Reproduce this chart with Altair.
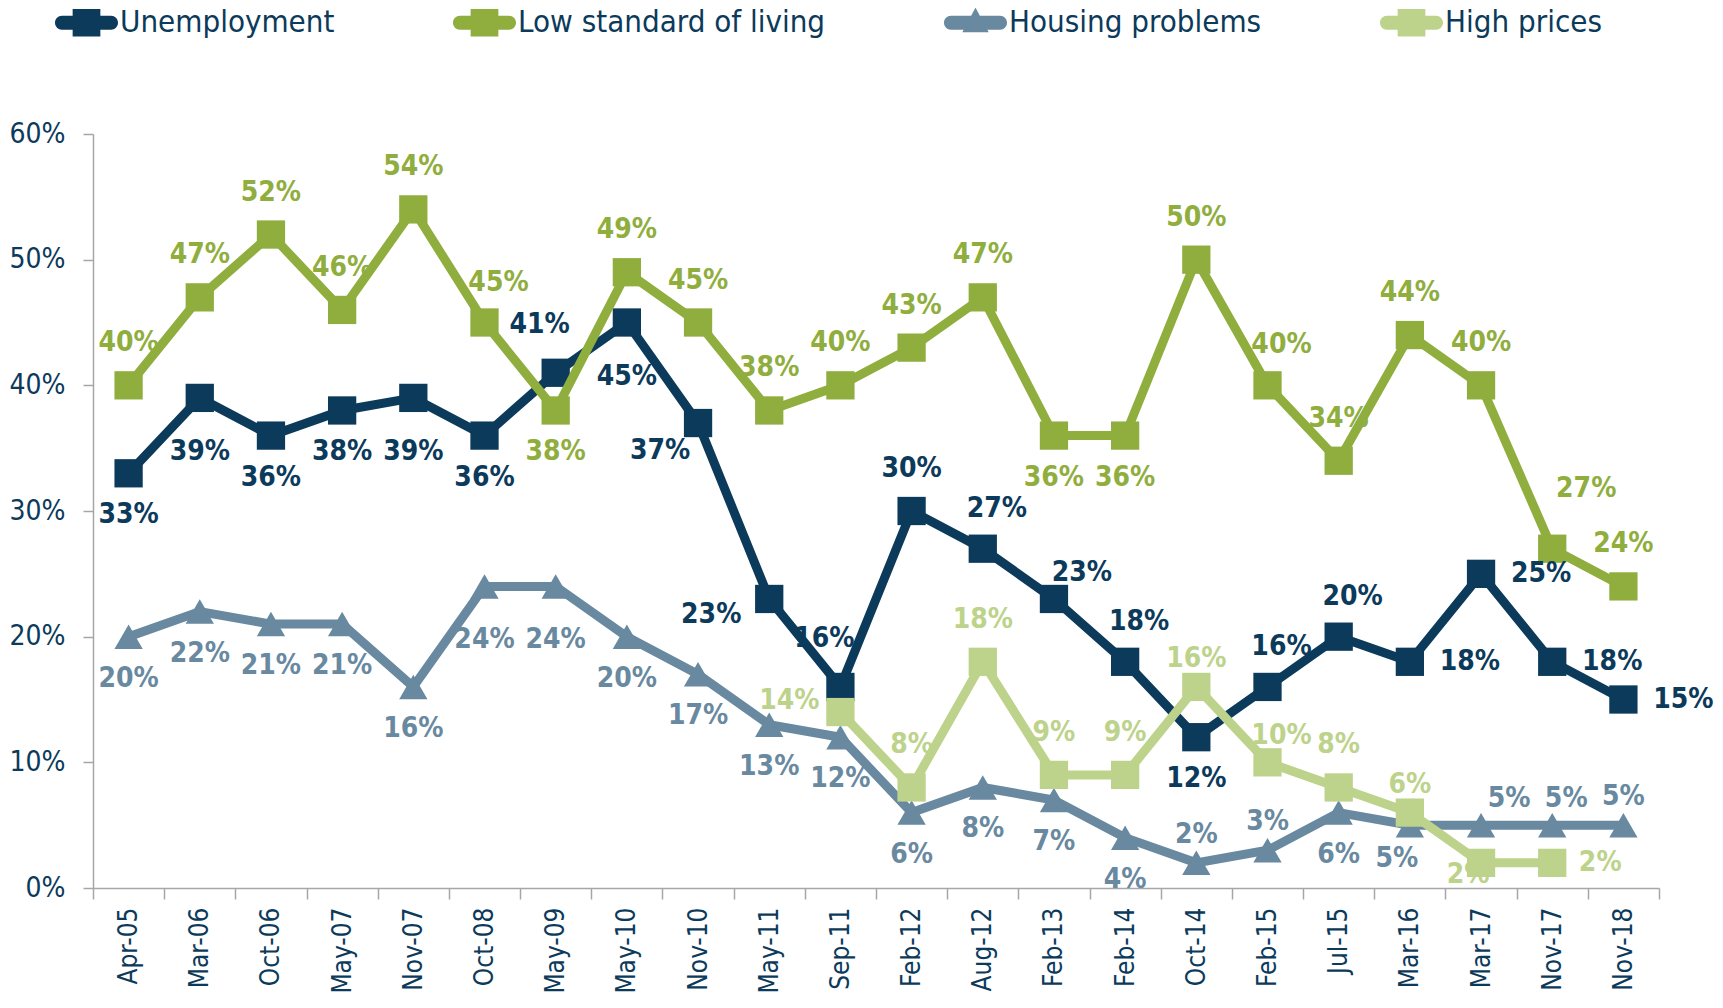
import altair as alt
import pandas as pd

categories = ["Apr-05", "Mar-06", "Oct-06", "May-07", "Nov-07", "Oct-08", "May-09",
              "May-10", "Nov-10", "May-11", "Sep-11", "Feb-12", "Aug-12", "Feb-13",
              "Feb-14", "Oct-14", "Feb-15", "Jul-15", "Mar-16", "Mar-17", "Nov-17", "Nov-18"]

series_names = ["Unemployment", "Low standard of living", "Housing problems", "High prices"]

unemployment = [33, 39, 36, 38, 39, 36, 41, 45, 37, 23, 16, 30, 27, 23, 18, 12, 16, 20, 18, 25, 18, 15]
low_standard = [40, 47, 52, 46, 54, 45, 38, 49, 45, 38, 40, 43, 47, 36, 36, 50, 40, 34, 44, 40, 27, 24]
housing = [20, 22, 21, 21, 16, 24, 24, 20, 17, 13, 12, 6, 8, 7, 4, 2, 3, 6, 5, 5, 5, 5]
high_prices = [None] * 10 + [14, 8, 18, 9, 9, 16, 10, 8, 6, 2, 2, None]

# label placement codes (style), one per point
unemp_place = ["b", "bb", "b", "b", "bb", "b", "al", "bb", "bl", "l", "al", "a",
               "ar", "ar2", "ar", "b", "ar", "ar", "r", "r", "r", "r"]
low_place = ["a", "a", "a", "a", "a", "ar", "b", "a", "a", "a", "a", "a",
             "a", "b", "b", "a", "ar", "a", "a", "a", "ar3", "a"]
housing_place = ["b", "b", "b", "b", "b", "bb", "bb", "b", "b", "b", "b", "b",
                 "b", "b", "b", "as", "as", "b", "bl2", "ar2", "ars", "as"]
hp_place = [None] * 10 + ["la", "a", "a", "a", "a", "as", "ars", "a", "as", "bls", "rs", None]

offsets = {
    "a": (0, -42), "as": (0, -28), "b": (0, 42), "bb": (0, 54),
    "r": (60, 0), "rs": (48, 0), "l": (-58, 16), "la": (-51, -11),
    "al": (-16, -48), "ar": (14, -40), "ars": (14, -26), "ar2": (28, -26),
    "ar3": (34, -60), "bl": (-38, 28), "bls": (-13, 12), "bl2": (-13, 34),
}

colors = ["#0C3A5B", "#8FAE3E", "#6889A0", "#BDD38B"]
markers = ["square", "square", "triangle-up", "square"]
NAVY = "#0C3A5B"
GRAY = "#A6A6A6"
FONT = "DejaVu Sans Condensed, DejaVu Sans"

sq = "M-0.44,-0.44 L0.44,-0.44 L0.44,0.44 L-0.44,0.44 Z"
bar = "M-0.78,-0.22 L0.78,-0.22 A0.22,0.22 0 0 1 0.78,0.22 L-0.78,0.22 A0.22,0.22 0 0 1 -0.78,-0.22 Z"
tri = "M0,-0.48 L0.42,0.3 L-0.42,0.3 Z"
legend_paths = [bar + " " + sq, bar + " " + sq, bar + " " + tri, bar + " " + sq]

rows = []
for name, vals, places in zip(series_names,
                              [unemployment, low_standard, housing, high_prices],
                              [unemp_place, low_place, housing_place, hp_place]):
    for cat, v, p in zip(categories, vals, places):
        if v is None:
            continue
        rows.append({"cat": cat, "series": name, "value": v, "place": p, "label": f"{v}%"})
df = pd.DataFrame(rows)

legend_def = alt.Legend(title=None, orient="none", legendX=-38, legendY=-143,
                        direction="horizontal", columns=4, symbolSize=3969,
                        symbolStrokeWidth=0, symbolOpacity=1, labelFontSize=31,
                        labelFont=FONT, labelColor=NAVY, labelOffset=2,
                        columnPadding=118, labelLimit=500, padding=0)

color_enc = alt.Color("series:N", scale=alt.Scale(domain=series_names, range=colors),
                      legend=legend_def)

x_enc = alt.X("cat:N", sort=categories, bandPosition=0.5,
              scale=alt.Scale(type="band", paddingInner=0, paddingOuter=0),
              axis=alt.Axis(title=None, labelAngle=-90, tickBand="extent", tickSize=11,
                            tickColor=GRAY, tickWidth=1.5, domainColor=GRAY, domainWidth=1.5,
                            labelFontSize=26, labelFont=FONT, labelColor=NAVY,
                            labelPadding=8, grid=False))
y_enc = alt.Y("value:Q", scale=alt.Scale(domain=[0, 60]),
              axis=alt.Axis(title=None, values=[0, 10, 20, 30, 40, 50, 60],
                            labelExpr="datum.value + '%'", tickSize=10, tickColor=GRAY,
                            tickWidth=1.5, domainColor=GRAY, domainWidth=1.5,
                            labelFontSize=28, labelFont=FONT, labelColor=NAVY,
                            labelPadding=18, grid=False))

base = alt.Chart(df).encode(x=x_enc, y=y_enc, color=color_enc)

layers = []
# invisible layer that supplies legend symbols
layers.append(base.mark_point(filled=True, opacity=0, size=100).encode(
    shape=alt.Shape("series:N", scale=alt.Scale(domain=series_names, range=legend_paths),
                    legend=legend_def)))

for name, mk in zip(series_names, markers):
    sub = base.transform_filter(alt.datum.series == name)
    layers.append(sub.mark_line(strokeWidth=9))
    layers.append(sub.mark_point(filled=True, opacity=1, size=800, shape=mk))

for code, (dx, dy) in offsets.items():
    layers.append(base.mark_text(dx=dx, dy=dy, fontSize=28, fontWeight="bold", font=FONT,
                                 align="center", baseline="middle")
                  .encode(text="label:N")
                  .transform_filter(alt.datum.place == code))

chart = alt.layer(*layers).properties(
    width=1566, height=754,
    autosize=alt.AutoSizeParams(type="none"),
    padding={"left": 85, "top": 126, "right": 56, "bottom": 111},
).configure_view(stroke=None)

chart.save("out.html", embed_options={"renderer": "svg", "actions": False})
